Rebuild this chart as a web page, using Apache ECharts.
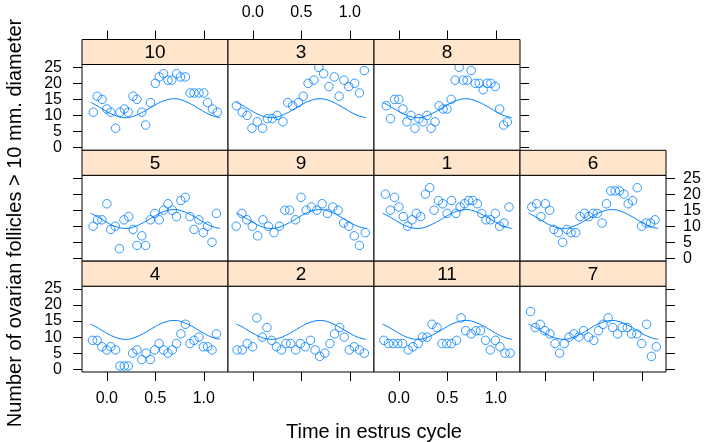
<!DOCTYPE html>
<html>
<head>
<meta charset="utf-8">
<script src="https://cdn.jsdelivr.net/npm/echarts@6/dist/echarts.min.js"></script>
<style>
  html, body { margin: 0; padding: 0; background: #fff; }
  #chart { width: 706px; height: 442px; }
</style>
</head>
<body>
<div id="chart"></div>
<script>
// Follicle counts (> 10 mm diameter) per mare over the estrus cycle
const mare10Time  = [-0.14,-0.10,-0.05,0.00,0.04,0.09,0.135,0.18,0.22,0.27,0.31,0.36,0.40,0.45,0.50,0.54,0.585,0.63,0.67,0.72,0.76,0.81,0.86,0.90,0.95,1.00,1.04,1.09,1.14];
const mare10Count = [11,16,15,12,11,6,11,12,11,16,15,11,7,14,20,22,23,21,21,23,22,22,17,17,17,17,14,12,11];

const mare3Time  = [-0.17,-0.11,-0.06,-0.01,0.045,0.10,0.15,0.20,0.25,0.31,0.36,0.41,0.47,0.52,0.57,0.63,0.68,0.73,0.785,0.84,0.89,0.94,0.99,1.05,1.10,1.15];
const mare3Count = [13,11,10,6,8,6,9,9,10,8,14,13,14,16,20,21,25,23,19,22,16,21,19,20,17,24];

const mare8Time  = [-0.13,-0.086,-0.045,0,0.041,0.083,0.124,0.166,0.207,0.249,0.29,0.332,0.373,0.415,0.456,0.497,0.539,0.58,0.622,0.663,0.705,0.746,0.788,0.829,0.87,0.91,0.95,0.995,1.04,1.08,1.12];
const mare8Count = [13,9,15,15,12,8,10,6,9,8,10,6,8,13,12,12,15,21,25,21,21,24,20,20,18,20,20,19,12,7,8];

const mare5Time  = [-0.142,-0.097,-0.052,0,0.04,0.086,0.13,0.176,0.225,0.27,0.31,0.36,0.40,0.449,0.494,0.54,0.585,0.63,0.675,0.718,0.764,0.81,0.857,0.90,0.95,0.995,1.04,1.085,1.13];
const mare5Count = [10,12,12,17,9,10,3,12,13,9,4,7,4,12,14,12,15,17,15,13,18,19,13,9,12,8,10,5,14];

const mare9Time  = [-0.172,-0.114,-0.062,-0.006,0.049,0.104,0.16,0.218,0.274,0.33,0.38,0.44,0.497,0.55,0.605,0.66,0.715,0.77,0.825,0.88,0.937,0.99,1.047,1.10,1.16];
const mare9Count = [10,14,12,10,7,12,10,8,10,15,15,12,19,15,16,15,17,14,16,15,11,10,7,4,8];

const mare1Time  = [-0.14,-0.089,-0.045,0,0.045,0.09,0.135,0.18,0.225,0.273,0.318,0.363,0.408,0.453,0.497,0.543,0.588,0.632,0.677,0.72,0.763,0.81,0.855,0.90,0.945,0.995,1.04,1.085,1.137];
const mare1Count = [20,15,19,16,13,10,12,14,13,20,22,15,18,17,14,18,14,16,17,18,18,17,14,12,12,14,10,11,16];

const mare6Time  = [-0.135,-0.086,-0.041,0.004,0.049,0.093,0.139,0.183,0.228,0.27,0.318,0.363,0.408,0.453,0.497,0.54,0.59,0.636,0.68,0.725,0.77,0.815,0.86,0.905,0.953,0.999,1.045,1.09,1.137];
const mare6Count = [16,17,13,17,15,9,8,5,9,8,8,13,14,13,14,14,11,17,21,21,21,20,17,18,22,10,11,11,12];

const mare4Time  = [-0.148,-0.10,-0.052,0,0.04,0.09,0.135,0.18,0.22,0.266,0.31,0.36,0.404,0.449,0.494,0.539,0.585,0.63,0.675,0.718,0.764,0.81,0.857,0.90,0.95,0.995,1.04,1.085,1.13];
const mare4Count = [9,9,7,6,7,6,1,1,1,5,6,3,5,3,6,8,6,5,6,8,11,14,8,9,10,7,7,6,11];

const mare2Time  = [-0.163,-0.11,-0.058,-0.003,0.041,0.097,0.145,0.194,0.243,0.294,0.342,0.39,0.442,0.49,0.539,0.594,0.642,0.69,0.743,0.795,0.843,0.895,0.943,0.995,1.047,1.10,1.15];
const mare2Count = [6,6,8,7,16,10,13,9,7,6,8,8,6,8,7,9,6,4,5,8,11,13,10,6,7,6,5];

const mare11Time  = [-0.155,-0.107,-0.058,-0.01,0.038,0.097,0.145,0.2,0.243,0.29,0.342,0.394,0.446,0.494,0.542,0.594,0.642,0.69,0.746,0.795,0.843,0.895,0.943,0.995,1.043,1.095,1.147];
const mare11Count = [9,8,8,8,8,6,7,8,10,10,14,13,8,8,8,9,16,12,11,12,12,9,6,9,7,5,5];

const mare7Time  = [-0.148,-0.10,-0.048,0,0.052,0.104,0.152,0.2,0.249,0.3,0.35,0.4,0.45,0.505,0.553,0.6,0.653,0.7,0.75,0.8,0.85,0.895,0.95,0.999,1.05,1.1,1.15];
const mare7Count = [18,13,14,12,11,8,5,8,10,11,10,12,10,9,12,14,16,13,11,13,13,11,11,8,14,4,7];

// Population-level fitted curve (same in every panel)
const fitTime  = [-0.17,-0.15,-0.10,-0.05,0.00,0.05,0.10,0.15,0.20,0.25,0.30,0.35,0.40,0.45,0.50,0.55,0.60,0.65,0.70,0.75,0.80,0.85,0.90,0.95,1.00,1.05,1.10,1.15,1.17];
const fitCount = [14.1,13.8,13.0,12.1,11.2,10.4,9.8,9.4,9.3,9.5,10.0,10.7,11.5,12.4,13.3,14.1,14.7,15.1,15.2,15.0,14.5,13.8,13.0,12.1,11.2,10.4,9.8,9.4,9.35];

// Axis ticks
const xTickValues = [0, 0.5, 1];
const xTickLabels = ['0.0', '0.5', '1.0'];
const yTickValues = [0, 5, 10, 15, 20, 25];

// Panel arrangement: rows top to bottom, columns left to right
const panelRows = [
  ['10', '3', '8', null],
  ['5', '9', '1', '6'],
  ['4', '2', '11', '7']
];
const mareData = {
  '10': [mare10Time, mare10Count], '3': [mare3Time, mare3Count], '8': [mare8Time, mare8Count],
  '5': [mare5Time, mare5Count], '9': [mare9Time, mare9Count], '1': [mare1Time, mare1Count],
  '6': [mare6Time, mare6Count], '4': [mare4Time, mare4Count], '2': [mare2Time, mare2Count],
  '11': [mare11Time, mare11Count], '7': [mare7Time, mare7Count]
};

const BLUE = '#0080ff';
const FONT = '"Liberation Sans", Arial, Helvetica, sans-serif';
const colLeft = [82, 228, 374, 520];
const panelW = 146;
const rowTop = [39.5, 150.3, 261.2];
const stripH = 25;
const panelH = 85.8;
const xMin = -0.257, xMax = 1.25;
const yMin = -0.875, yMax = 25.875;

const grids = [], xAxes = [], yAxes = [], series = [], graphics = [];
const pair = (xs, ys) => xs.map((x, i) => [x, ys[i]]);
const fitPoints = pair(fitTime, fitCount);

panelRows.forEach((row, r) => {
  const lastCol = row.reduce((acc, m, c) => (m !== null ? c : acc), 0);
  row.forEach((mare, c) => {
    if (mare === null) return;
    const idx = grids.length;
    grids.push({
      left: colLeft[c], top: rowTop[r] + stripH, width: panelW, height: panelH,
      show: true, borderColor: '#000', borderWidth: 1, backgroundColor: '#fff'
    });

    const xTicks = r === 0 || r === 2;
    const xLabels = (r === 0 && c === 1) || (r === 2 && (c === 0 || c === 2));
    xAxes.push({
      type: 'value', gridIndex: idx, min: xMin, max: xMax,
      position: r === 0 ? 'top' : 'bottom',
      offset: r === 0 ? stripH : 0,
      axisLine: { show: false, onZero: false }, splitLine: { show: false },
      axisTick: { show: xTicks, customValues: xTickValues, length: 9, inside: false,
                  lineStyle: { color: '#000', width: 1 } },
      axisLabel: { show: xLabels, customValues: xTickValues, margin: 19,
                   formatter: v => xTickLabels[xTickValues.indexOf(v)] ?? v.toFixed(1),
                   color: '#000', fontSize: 16, fontFamily: FONT }
    });

    const leftSide = c === 0;
    const rightSide = c === lastCol;
    const yLabels = (leftSide && r !== 1) || (rightSide && r === 1);
    yAxes.push({
      type: 'value', gridIndex: idx, min: yMin, max: yMax,
      position: rightSide ? 'right' : 'left',
      axisLine: { show: false, onZero: false }, splitLine: { show: false },
      axisTick: { show: leftSide || rightSide, customValues: yTickValues, length: 9, inside: false,
                  lineStyle: { color: '#000', width: 1 } },
      axisLabel: { show: yLabels, customValues: yTickValues, margin: rightSide ? 17 : 20,
                   align: rightSide ? 'left' : 'right',
                   color: '#000', fontSize: 16, fontFamily: FONT }
    });

    const [ts, ys] = mareData[mare];
    series.push({
      type: 'scatter', xAxisIndex: idx, yAxisIndex: idx,
      data: pair(ts, ys), symbol: 'circle', symbolSize: 8.5,
      itemStyle: { color: 'rgba(0,0,0,0)', borderColor: BLUE, borderWidth: 1 },
      silent: true
    });
    series.push({
      type: 'line', xAxisIndex: idx, yAxisIndex: idx,
      data: fitPoints, smooth: 0.3, showSymbol: false,
      lineStyle: { color: BLUE, width: 1 }, silent: true
    });

    // Strip with the mare label
    graphics.push({
      type: 'rect', z: 10,
      shape: { x: colLeft[c], y: rowTop[r], width: panelW, height: stripH },
      style: { fill: '#ffe5cc', stroke: '#000', lineWidth: 1 }
    });
    graphics.push({
      type: 'text', z: 11,
      x: colLeft[c] + panelW / 2, y: rowTop[r] + stripH / 2 + 1,
      style: { text: mare, align: 'center', verticalAlign: 'middle',
               font: '19px ' + FONT, fill: '#000' }
    });
  });
});

// Axis titles
graphics.push({
  type: 'text', x: 374, y: 432,
  style: { text: 'Time in estrus cycle', align: 'center', verticalAlign: 'middle',
           font: '20px ' + FONT, fill: '#000' }
});
graphics.push({
  type: 'text', x: 15, y: 223, rotation: Math.PI / 2,
  style: { text: 'Number of ovarian follicles > 10 mm. diameter', align: 'center',
           verticalAlign: 'middle', font: '20px ' + FONT, fill: '#000' }
});

const chart = echarts.init(document.getElementById('chart'), null, { renderer: 'canvas' });
chart.setOption({
  animation: false,
  backgroundColor: '#fff',
  grid: grids,
  xAxis: xAxes,
  yAxis: yAxes,
  series: series,
  graphic: graphics
});
</script>
</body>
</html>
